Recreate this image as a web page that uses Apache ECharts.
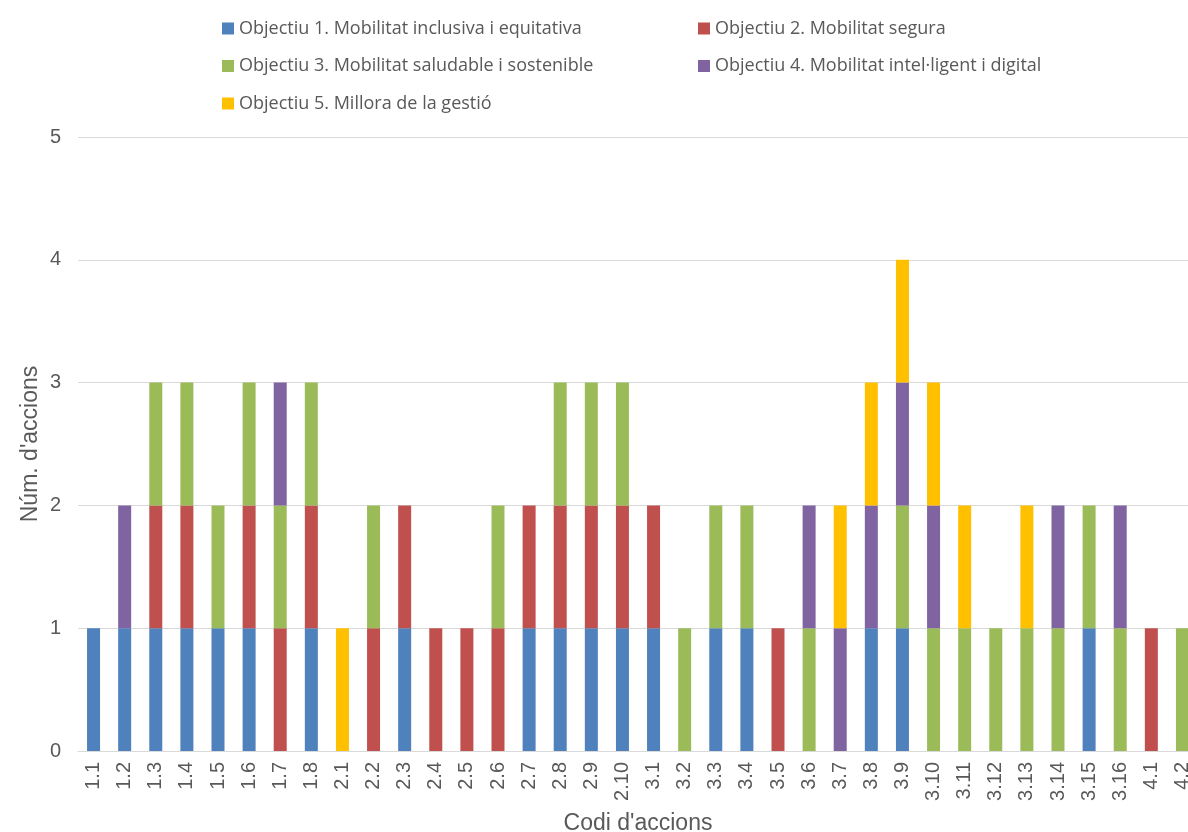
<!DOCTYPE html>
<html>
<head>
<meta charset="utf-8">
<title>Codi d'accions</title>
<script src="https://cdn.jsdelivr.net/npm/echarts@6/dist/echarts.min.js"></script>
<style>
  html, body { margin: 0; padding: 0; background: #ffffff; }
  #chart { width: 1188px; height: 832px; }
</style>
</head>
<body>
<div id="chart"></div>
<script>
// Action codes on the x axis
const categories = [
  '1.1', '1.2', '1.3', '1.4', '1.5', '1.6', '1.7', '1.8',
  '2.1', '2.2', '2.3', '2.4', '2.5', '2.6', '2.7', '2.8', '2.9', '2.10',
  '3.1', '3.2', '3.3', '3.4', '3.5', '3.6', '3.7', '3.8', '3.9', '3.10',
  '3.11', '3.12', '3.13', '3.14', '3.15', '3.16',
  '4.1', '4.2'
];

// Number of actions per objective for each action code
const objectiu1 = [1,1,1,1,1,1,0,1, 0,0,1,0,0,0,1,1,1,1, 1,0,1,1,0,0,0,1,1,0, 0,0,0,0,1,0, 0,0];
const objectiu2 = [0,0,1,1,0,1,1,1, 0,1,1,1,1,1,1,1,1,1, 1,0,0,0,1,0,0,0,0,0, 0,0,0,0,0,0, 1,0];
const objectiu3 = [0,0,1,1,1,1,1,1, 0,1,0,0,0,1,0,1,1,1, 0,1,1,1,0,1,0,0,1,1, 1,1,1,1,1,1, 0,1];
const objectiu4 = [0,1,0,0,0,0,1,0, 0,0,0,0,0,0,0,0,0,0, 0,0,0,0,0,1,1,1,1,1, 0,0,0,1,0,1, 0,0];
const objectiu5 = [0,0,0,0,0,0,0,0, 1,0,0,0,0,0,0,0,0,0, 0,0,0,0,0,0,1,1,1,1, 1,0,1,0,0,0, 0,0];

const seriesNames = [
  'Objectiu 1. Mobilitat inclusiva i equitativa',
  'Objectiu 2. Mobilitat segura',
  'Objectiu 3. Mobilitat saludable i sostenible',
  'Objectiu 4. Mobilitat intel·ligent i digital',
  'Objectiu 5. Millora de la gestió'
];
const seriesValues = [objectiu1, objectiu2, objectiu3, objectiu4, objectiu5];
const seriesColors = ['#4F81BD', '#C0504D', '#9BBB59', '#8064A2', '#FFC000'];

const yTicks = { min: 0, max: 5, interval: 1 };

const axisFont = 'Arial, "Liberation Sans", sans-serif';
const legendFont = '"Open Sans", "Noto Sans", sans-serif';
const textGrey = '#595959';

const chart = echarts.init(document.getElementById('chart'), null, { renderer: 'canvas' });

const legendText = {
  fontFamily: legendFont,
  fontSize: 18,
  color: textGrey,
  lineHeight: 20
};

chart.setOption({
  animation: false,
  backgroundColor: '#ffffff',
  color: seriesColors,
  legend: [
    {
      orient: 'vertical',
      left: 222,
      top: 18.5,
      padding: 0,
      itemWidth: 12,
      itemHeight: 12,
      itemGap: 17.5,
      icon: 'rect',
      selectedMode: false,
      textStyle: legendText,
      data: [seriesNames[0], seriesNames[2], seriesNames[4]]
    },
    {
      orient: 'vertical',
      left: 698,
      top: 18.5,
      padding: 0,
      itemWidth: 12,
      itemHeight: 12,
      itemGap: 17.5,
      icon: 'rect',
      selectedMode: false,
      textStyle: legendText,
      data: [seriesNames[1], seriesNames[3]]
    }
  ],
  // the plot area runs a little past the right edge of the page
  grid: {
    left: 78,
    top: 137,
    right: -10,
    bottom: 81,
    containLabel: false,
    outerBoundsMode: 'none'
  },
  xAxis: {
    type: 'category',
    data: categories,
    name: "Codi d'accions",
    nameLocation: 'middle',
    nameGap: 61,
    nameTextStyle: { fontFamily: axisFont, fontSize: 23, color: textGrey },
    axisLine: { show: true, lineStyle: { color: '#D9D9D9', width: 1 } },
    axisTick: { show: false },
    axisLabel: {
      rotate: 90,
      interval: 0,
      margin: 11,
      fontFamily: axisFont,
      fontSize: 20,
      color: textGrey
    }
  },
  yAxis: {
    type: 'value',
    min: yTicks.min,
    max: yTicks.max,
    interval: yTicks.interval,
    name: "Núm. d'accions",
    nameLocation: 'middle',
    nameGap: 36,
    nameMoveOverlap: false,
    nameRotate: 90,
    nameTextStyle: { fontFamily: axisFont, fontSize: 23, color: textGrey },
    axisLine: { show: false },
    axisTick: { show: false },
    axisLabel: {
      margin: 17,
      fontFamily: axisFont,
      fontSize: 20,
      color: textGrey
    },
    splitLine: { lineStyle: { color: '#D9D9D9', width: 1 } }
  },
  series: seriesNames.map((name, i) => ({
    name: name,
    type: 'bar',
    stack: 'accions',
    barWidth: 13,
    data: seriesValues[i],
    itemStyle: { color: seriesColors[i] }
  }))
});
</script>
</body>
</html>
